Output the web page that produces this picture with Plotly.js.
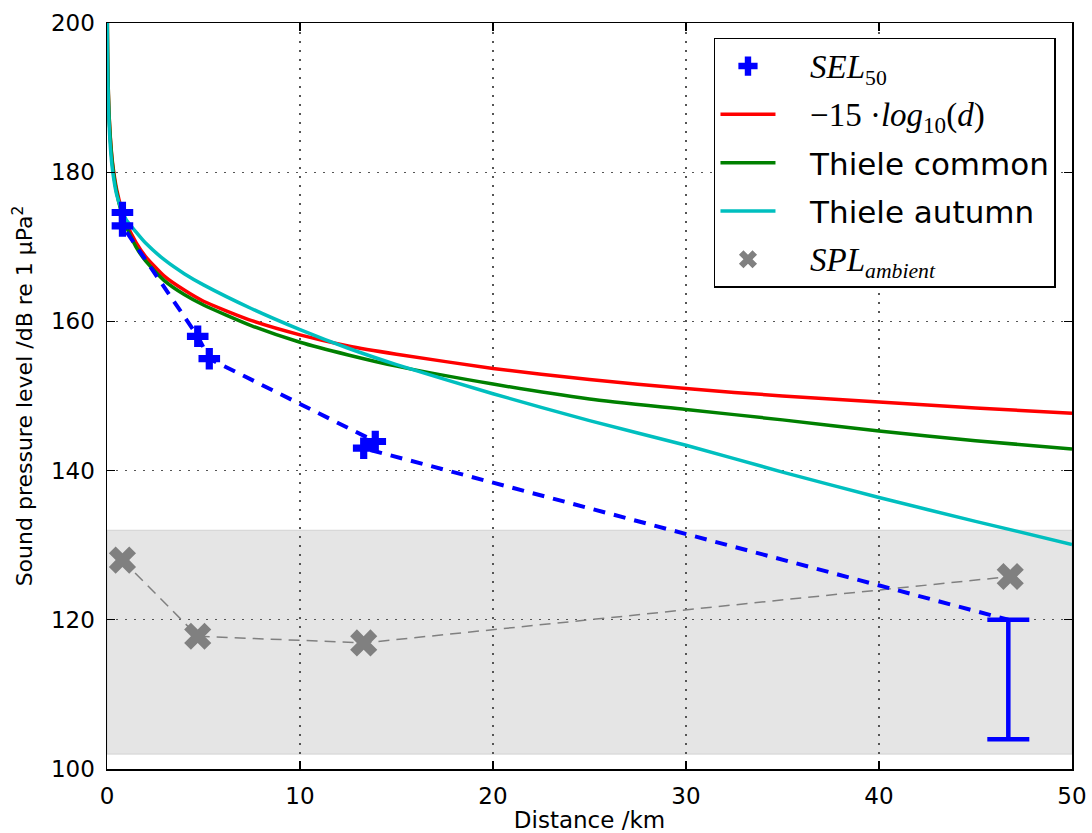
<!DOCTYPE html>
<html>
<head>
<meta charset="utf-8">
<script src="https://cdn.plot.ly/plotly-3.0.1.min.js"></script>
<style>html,body{margin:0;padding:0;background:#fff;}#chart{width:1092px;height:833px;}</style>
</head>
<body>
<div id="chart"></div>
<script>
// ---- data ----
const curveX      = [0.015, 0.02, 0.03, 0.05, 0.1, 0.2, 0.3, 0.5, 0.75, 1, 1.5, 2, 3, 4, 5, 7.5, 10, 12.5, 15, 20, 25, 30, 35, 40, 45, 50];
const redY        = [200.6, 198.7, 196.0, 192.7, 188.2, 183.7, 181.0, 177.7, 175.1, 173.2, 170.6, 168.7, 166.0, 164.2, 162.7, 160.1, 158.2, 156.7, 155.6, 153.7, 152.2, 151.0, 150.0, 149.2, 148.4, 147.7];
const greenY      = [201.0, 199.0, 196.2, 192.8, 188.2, 183.5, 180.7, 177.3, 174.6, 172.7, 170.0, 168.1, 165.4, 163.6, 162.2, 159.4, 157.2, 155.5, 154.0, 151.6, 149.6, 148.2, 146.8, 145.3, 144.0, 142.9];
const cyanY       = [200.5, 198.0, 195.0, 191.5, 187.0, 182.5, 180.0, 177.0, 175.0, 173.6, 172.0, 170.5, 168.2, 166.4, 164.9, 161.7, 158.9, 156.4, 154.2, 150.3, 146.7, 143.4, 139.8, 136.4, 133.2, 130.1];

const selX        = [0.8, 0.8, 4.7, 5.3, 13.9, 13.3];
const selY        = [174.6, 172.8, 158.0, 155.0, 143.9, 143.0];
const selLineX    = [0.8, 0.8, 4.7, 5.3, 13.9, 13.3, 46.7];
const selLineY    = [174.6, 172.8, 158.0, 155.0, 143.9, 143.0, 120.0];
const errX        = [46.7];
const errTop      = [120];
const errBottom   = [104];

const ambX        = [0.8, 4.7, 13.3, 46.8];
const ambY        = [128.0, 117.8, 116.9, 125.8];

const bandLow     = 102;
const bandHigh    = 132;

const xTicks      = [0, 10, 20, 30, 40, 50];
const yTicks      = [100, 120, 140, 160, 180, 200];

const pad = '\u00a0\u00a0\u00a0';
const names = {
  sel: pad + '<span style="font-family:\'Liberation Serif\';font-style:italic;font-size:33px">SEL</span><sub><span style="font-family:\'Liberation Serif\'">50</span></sub>',
  red: pad + '<span style="font-family:\'Liberation Serif\';font-size:33px">−15 ·<i>log</i><sub>10</sub>(<i>d</i>)</span>',
  green: pad + 'Thiele common',
  cyan: pad + 'Thiele autumn',
  amb: pad + '<span style="font-family:\'Liberation Serif\';font-style:italic;font-size:33px">SPL</span><sub><span style="font-family:\'Liberation Serif\';font-style:italic">ambient</span></sub>'
};

const traces = [
  {x: curveX, y: redY, mode: 'lines', name: names.red, line: {color: '#ff0000', width: 3.5, shape: 'spline', smoothing: 0.6}, legendrank: 2, legendgroup: 'r'},
  {x: curveX, y: greenY, mode: 'lines', name: names.green, line: {color: '#008000', width: 3.5, shape: 'spline', smoothing: 0.6}, legendrank: 3, legendgroup: 'g'},
  {x: curveX, y: cyanY, mode: 'lines', name: names.cyan, line: {color: '#00bfbf', width: 3.5, shape: 'spline', smoothing: 0.6}, legendrank: 4, legendgroup: 'c'},
  {x: ambX, y: ambY, mode: 'lines', showlegend: false, line: {color: '#808080', width: 1.5, dash: '11px,7px'}},
  {x: ambX, y: ambY, mode: 'markers', name: names.amb, marker: {symbol: 'x', size: 24, color: '#808080', line: {width: 0}}, legendrank: 5, legendgroup: 'a'},
  {x: selLineX, y: selLineY, mode: 'lines', showlegend: false, line: {color: '#0000ff', width: 4, dash: '12px,9px'}},
  {x: errX, y: errTop, mode: 'markers', showlegend: false, marker: {size: 1, opacity: 0},
   error_y: {type: 'data', symmetric: false, array: errTop.map(() => 0), arrayminus: errTop.map((t, i) => t - errBottom[i]), color: '#0000ff', thickness: 4.5, width: 21}},
  {x: selX, y: selY, mode: 'markers', name: names.sel, marker: {symbol: 'cross', size: 18, color: '#0000ff', line: {width: 0}}, legendrank: 1, legendgroup: 's'}
];

const axisCommon = {
  showline: true, mirror: 'ticks', linecolor: '#000', linewidth: 1.5,
  ticks: 'inside', ticklen: 8, tickwidth: 1.2, tickcolor: '#000',
  showgrid: true, gridcolor: '#555', griddash: '2px,7px', gridwidth: 1.3,
  zeroline: false,
  tickfont: {family: 'DejaVu Sans', size: 23, color: '#000'},
  ticklabelstandoff: 6
};

const layout = {
  width: 1092, height: 833,
  margin: {l: 107, r: 20, t: 23, b: 64},
  paper_bgcolor: '#fff', plot_bgcolor: '#fff',
  showlegend: true,
  xaxis: Object.assign({}, axisCommon, {
    range: [0, 50], tickvals: xTicks, ticktext: xTicks.map(String),
    title: {text: 'Distance /km', font: {family: 'DejaVu Sans', size: 23, color: '#000'}, standoff: 6}
  }),
  yaxis: Object.assign({}, axisCommon, {
    range: [100, 200], tickvals: yTicks, ticktext: yTicks.map(String),
    title: {text: 'Sound pressure level /dB re 1 µPa<sup>2</sup>', font: {family: 'DejaVu Sans', size: 22, color: '#000'}, standoff: 12}
  }),
  shapes: [{
    type: 'rect', xref: 'paper', x0: 0, x1: 1, yref: 'y', y0: bandLow, y1: bandHigh,
    fillcolor: '#e5e5e5', line: {color: '#d2d2d2', width: 1}, layer: 'below'
  }],
  legend: {
    x: 0.9834, xanchor: 'right', y: 0.98, yanchor: 'top',
    bgcolor: '#fff', bordercolor: '#000', borderwidth: 1.5,
    font: {family: 'DejaVu Sans', size: 31, color: '#000'},
    itemwidth: 55, tracegroupgap: 5, traceorder: 'grouped'
  }
};

Plotly.newPlot('chart', traces, layout, {displayModeBar: false, staticPlot: true});
</script>
</body>
</html>
